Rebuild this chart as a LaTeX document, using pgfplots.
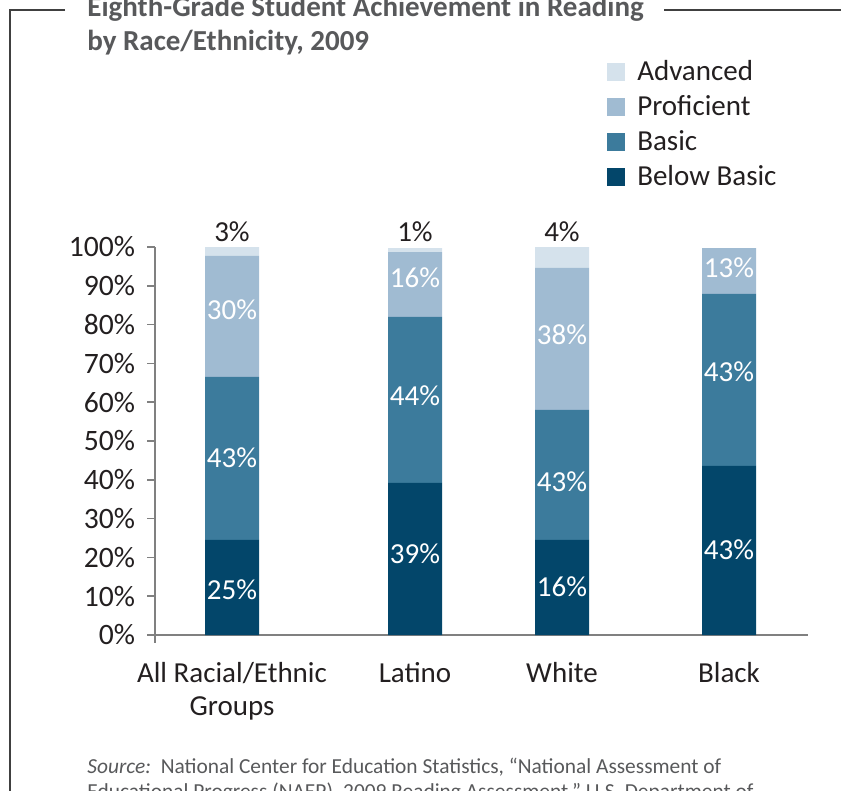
\documentclass[border=0pt]{standalone}
\usepackage{fontspec}
\setmainfont{Carlito}
\usepackage{pgfplots}
\pgfplotsset{compat=1.18}
\usepackage{pgfplotstable}
\definecolor{adv}{HTML}{D5E2EC}
\definecolor{prof}{HTML}{A0BBD2}
\definecolor{bas}{HTML}{3C7B9C}
\definecolor{below}{HTML}{03466A}
\definecolor{titlegray}{HTML}{58595B}
\definecolor{axgray}{HTML}{808080}
\definecolor{txt}{HTML}{231F20}
\definecolor{framec}{HTML}{404040}

\pgfplotstableread{
x below basic prof adv
232 24.5 42.0 31.2 2.3
415 39.2 42.8 16.7 1.0
562 24.5 33.5 36.6 5.4
729 43.6 44.3 11.8 0
}\bars

\pgfplotstableread{
x y v
232 11.6 25
232 45.6 43
232 83.8 30
415 20.9 39
415 61.6 44
415 92.0 16
562 12.4 16
562 39.4 43
562 77.3 38
729 21.9 43
729 67.8 43
729 94.6 13
}\inlabels

\pgfplotstableread{
x y v
232 103.9 3
415 103.9 1
562 103.9 4
}\toplabels

\newcommand\bigfont{\fontsize{14.5}{16.5}\selectfont}

\begin{document}
\begin{tikzpicture}
\useasboundingbox (0,0) rectangle (420.5pt,-395.5pt);
\clip (0,0) rectangle (420.5pt,-395.5pt);
\begin{scope}[x=0.5pt,y=-0.5pt]
\draw[framec, line width=0.6pt] (65,10) -- (10,10) -- (10,800);
\draw[framec, line width=0.6pt] (664,10) -- (850,10);
\node[anchor=base west, inner sep=0, font=\bfseries\bigfont, text=titlegray] at (87,17) {Eighth-Grade Student Achievement in Reading};
\node[anchor=base west, inner sep=0, font=\bfseries\bigfont, text=titlegray] at (87,51) {by Race/Ethnicity, 2009};
\node[anchor=base west, inner sep=0, font=\fontsize{10.7}{12}\selectfont, text=titlegray] at (87,773) {\textit{Source:}\ \ National Center for Education Statistics, “National Assessment of};
\node[anchor=base west, inner sep=0, font=\fontsize{10.7}{12}\selectfont, text=titlegray] at (87,798) {Educational Progress (NAEP), 2009 Reading Assessment,” U.S. Department of};
\end{scope}

\begin{axis}[name=main, at={(77.5pt,-317.5pt)}, anchor=south west,
  scale only axis, width=326.5pt, height=194pt,
  xmin=155, xmax=808, ymin=0, ymax=100,
  ybar stacked, bar width=27pt,
  axis lines*=left,
  axis line style={axgray, line width=0.75pt},
  ytick={0,10,...,100},
  yticklabel={\pgfmathprintnumber{\tick}\%},
  /pgf/number format/assume math mode=true,
  tick align=outside, major tick length=4pt,
  tick style={axgray, line width=0.75pt},
  xtick={232,415,562,729},
  xticklabels={{All Racial/Ethnic\\Groups},Latino,White,Black},
  x tick style={draw=none},
  xticklabel style={align=center, font=\bigfont, text=txt, yshift=-6pt},
  yticklabel style={font=\fontsize{14.8}{16.5}\selectfont, text=txt, xshift=-2.5pt},
  legend style={at={(0.692,1.498)}, anchor=north west, draw=none, fill=none,
    font=\bigfont, text=txt, inner sep=0pt, row sep=0pt,
    nodes={inner sep=3pt}},
  legend cell align=left,
  reverse legend,
  legend image code/.code={\draw[#1,draw=none] (0pt,-4.5pt) rectangle (9pt,4.5pt);},
]
\addplot[fill=below, draw=none] table[x=x,y=below]{\bars};
\addplot[fill=bas, draw=none] table[x=x,y=basic]{\bars};
\addplot[fill=prof, draw=none] table[x=x,y=prof]{\bars};
\addplot[fill=adv, draw=none] table[x=x,y=adv]{\bars};
\legend{\hspace{3pt}Below Basic, \hspace{3pt}Basic, \hspace{3pt}Proficient, \hspace{3pt}Advanced}
\end{axis}
\draw[axgray, line width=0.75pt] (main.south west) -- ++(0,-4pt);

\begin{axis}[at={(77.5pt,-317.5pt)}, anchor=south west,
  scale only axis, width=326.5pt, height=194pt,
  xmin=155, xmax=808, ymin=0, ymax=100, hide axis, clip=false,
  /pgf/number format/assume math mode=true]
\addplot[draw=none, mark=none, nodes near coords={\pgfmathprintnumber{\pgfplotspointmeta}\%},
  point meta=explicit, nodes near coords align=center,
  every node near coord/.append style={font=\bigfont, text=white, anchor=center}]
  table[x=x,y=y,meta=v]{\inlabels};
\addplot[draw=none, mark=none, nodes near coords={\pgfmathprintnumber{\pgfplotspointmeta}\%},
  point meta=explicit, nodes near coords align=center,
  every node near coord/.append style={font=\bigfont, text=txt, anchor=center}]
  table[x=x,y=y,meta=v]{\toplabels};
\end{axis}
\end{tikzpicture}
\end{document}
